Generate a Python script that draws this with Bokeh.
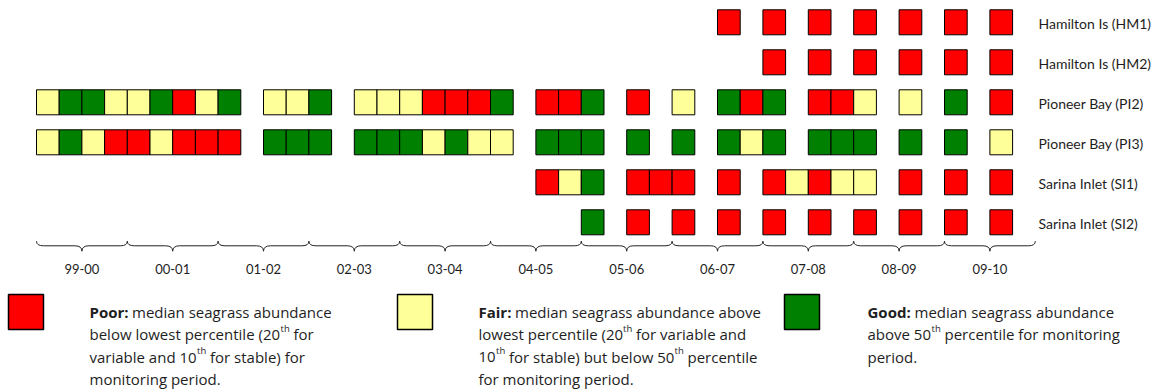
from bokeh.plotting import figure
from bokeh.models import Range1d, ColumnDataSource
from bokeh.core.properties import value
from bokeh.embed import file_html
from bokeh.resources import INLINE

# ---------------- data ----------------
sites = ["Hamilton Is (HM1)", "Hamilton Is (HM2)", "Pioneer Bay (PI2)",
         "Pioneer Bay (PI3)", "Sarina Inlet (SI1)", "Sarina Inlet (SI2)"]

# one character per sampling event column: '.' not sampled, P poor, F fair, G good
hm1 = "..............................P.P.P.P.P.P.P"
hm2 = "................................P.P.P.P.P.P"
pi2 = "FGGFFGPFG.FFG.FFFPPPG.PPG.P.F.GPG.PPF.F.G.P"
pi3 = "FGFPPFPPP.GGG.GGGFGFF.GGG.G.G.GFG.GGG.G.G.F"
si1 = "......................PFG.PPP.P.PFPFF.P.P.P"
si2 = "........................G.P.P.P.P.P.P.P.P.P"
site_status = [hm1, hm2, pi2, pi3, si1, si2]

periods = ["99-00", "00-01", "01-02", "02-03", "03-04", "04-05",
           "05-06", "06-07", "07-08", "08-09", "09-10"]
cols_per_period = 4

categories = ["Poor", "Fair", "Good"]
codes = ["P", "F", "G"]
cat_colors = ["#FF0000", "#FFFF99", "#008000"]

# legend text: lines of segments (text, kind): b bold, n normal, s superscript
legend_text = {
    "Poor": [
        [("Poor:", "b"), ("median seagrass abundance", "n")],
        [("below lowest percentile (20", "n"), ("th", "s"), ("for", "n")],
        [("variable and 10", "n"), ("th", "s"), ("for stable) for", "n")],
        [("monitoring period.", "n")],
    ],
    "Fair": [
        [("Fair:", "b"), ("median seagrass abundance above", "n")],
        [("lowest percentile (20", "n"), ("th", "s"), ("for variable and", "n")],
        [("10", "n"), ("th", "s"), ("for stable) but below 50", "n"), ("th", "s"), ("percentile", "n")],
        [("for monitoring period.", "n")],
    ],
    "Good": [
        [("Good:", "b"), ("median seagrass abundance", "n")],
        [("above 50", "n"), ("th", "s"), ("percentile for monitoring", "n")],
        [("period.", "n")],
    ],
}

# ---------------- layout (page pixels) ----------------
W, H = 1157, 389
COL0, COLW = 36.0, 22.7        # page x of first column edge, column width
ROW0, ROWH = 21.8, 40.0        # page y of first row centre, row pitch
CELL_H = 25.0

def X(px):
    return (px - COL0) / COLW

def Y(py):
    return (py - ROW0) / ROWH

FONT = value("Lato")
LFONT = value("Open Sans")
TXT = "#1e1e1e"

p = figure(width=W, height=H, output_backend="svg", toolbar_location=None,
           x_range=Range1d(X(0), X(W)), y_range=Range1d(Y(H), Y(0)),
           x_axis_location=None, y_axis_location=None, min_border=0)
p.grid.visible = False
p.outline_line_color = None
p.background_fill_color = "white"
p.border_fill_color = "white"

# cells
cx, cy, cc = [], [], []
for r, st in enumerate(site_status):
    for c, ch in enumerate(st):
        if ch in codes:
            cx.append(c + 0.5)
            cy.append(r)
            cc.append(cat_colors[codes.index(ch)])
p.rect(x="x", y="y", width=1, height=CELL_H / ROWH, fill_color="c",
       line_color="black", line_width=1,
       source=ColumnDataSource(dict(x=cx, y=cy, c=cc)))

# site labels
p.text(x=[X(1038)] * len(sites), y=[r + 1.0 / ROWH for r in range(len(sites))], text=sites,
       text_font=FONT, text_font_size="14px", text_color=TXT,
       text_baseline="middle", text_align="left")

# braces under the period columns
ytop, ymid, ybot = Y(240.7), Y(245.3), Y(250.7)
q = 7.0 / COLW
qx0, qy0, qx1, qy1, qcx, qcy = [], [], [], [], [], []
sx0, sy0, sx1, sy1 = [], [], [], []
for k in range(len(periods)):
    a = k * cols_per_period
    b = a + cols_per_period
    m = (a + b) / 2.0
    qx0 += [a, m - q, m + q, b]
    qy0 += [ytop, ymid, ymid, ytop]
    qx1 += [a + q, m, m, b - q]
    qy1 += [ymid, ybot, ybot, ymid]
    qcx += [a, m, m, b]
    qcy += [ymid, ymid, ymid, ymid]
    sx0 += [a + q, m + q]
    sy0 += [ymid, ymid]
    sx1 += [m - q, b - q]
    sy1 += [ymid, ymid]
p.quadratic(x0=qx0, y0=qy0, x1=qx1, y1=qy1, cx=qcx, cy=qcy, line_color="#222222", line_width=1)
p.segment(x0=sx0, y0=sy0, x1=sx1, y1=sy1, line_color="#222222", line_width=1)

p.text(x=[k * cols_per_period + cols_per_period / 2.0 for k in range(len(periods))],
       y=[Y(268)] * len(periods), text=periods,
       text_font=FONT, text_font_size="13px", text_color=TXT,
       text_baseline="alphabetic", text_align="center")

# legend
sq_left = {"Poor": 8, "Fair": 397, "Good": 784}
SQ = 35.0
SQ_TOP = 294.0
baselines = [311, 333.5, 356, 378]
# page-x of each segment start
seg_x = {
    "Poor": [[89, 131.5], [89, 280, 293], [89, 196.5, 209.5], [89]],
    "Fair": [[478, 514.5], [478, 622.5, 635.5], [478, 495.5, 508.5, 674, 687], [478]],
    "Good": [[867, 914], [867, 931, 944], [867]],
}
lx, ly, lc = [], [], []
for cat, col in zip(categories, cat_colors):
    lx.append(X(sq_left[cat] + SQ / 2))
    ly.append(Y(SQ_TOP + SQ / 2))
    lc.append(col)
p.rect(x=lx, y=ly, width=SQ / COLW, height=SQ / ROWH, fill_color=lc,
       line_color="black", line_width=1.5)

for kind, size, style, dy in [("n", "15px", "normal", 0), ("b", "15px", "bold", 0), ("s", "9.5px", "normal", -6)]:
    tx, ty, tt = [], [], []
    for cat in categories:
        for li, line in enumerate(legend_text[cat]):
            for si, (t, k) in enumerate(line):
                if k == kind:
                    tx.append(X(seg_x[cat][li][si]))
                    ty.append(Y(baselines[li] + dy))
                    tt.append(t)
    p.text(x=tx, y=ty, text=tt, text_font=LFONT, text_font_size=size,
           text_font_style=style, text_color=TXT,
           text_baseline="alphabetic", text_align="left")

open("out.html", "w").write(file_html(p, INLINE))
